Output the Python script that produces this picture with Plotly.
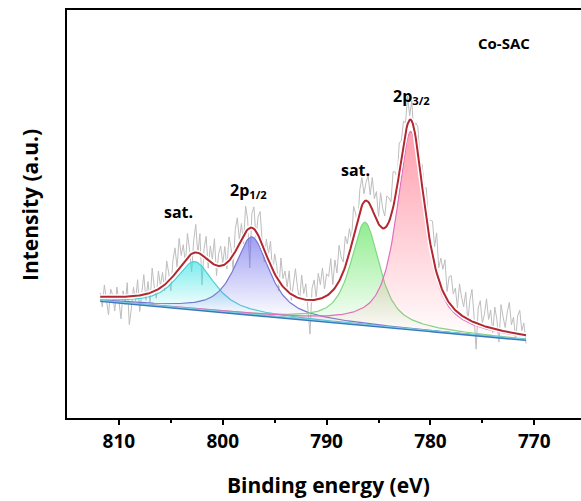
import numpy as np
import plotly.graph_objects as go

# ---------------- data ----------------
# binding-energy grid of the measured spectrum (eV), high -> low
be_start, be_stop, be_step = 811.8, 770.8, 0.2

# linear background: intensity at the two ends of the spectrum
bg_left, bg_right = 117.0, 78.0

# fitted components
peak_names   = ["sat. (2p1/2)", "2p1/2", "sat. (2p3/2)", "2p3/2"]
peak_centers = [802.7, 797.2, 786.3, 781.9]
peak_heights = [48.0, 78.0, 103.0, 198.0]
peak_fwhm    = [4.5, 4.0, 3.3, 3.2]
lorentz_frac = 0.8

residuals = [
    4, -10, 12, -6, -18, 8, 2, -14, 10, -4,
    -22, 6, -8, 14, -28, -12, 9, -5, 16, -16,
    3, 20, -6, 12, -10, 24, 5, -8, 18, 2,
    14, -6, 22, 8, -12, 16, 26, 4, 30, 10,
    18, -4, 24, 6, -18, 12, 28, -2, 20, -30,
    8, 22, -8, 16, 4, 26, -10, 12, 20, 2,
    18, -6, 24, 10, -14, 22, 30, 4, 16, -8,
    26, 10, -40, 14, 22, -6, 18, 28, 2, -12,
    16, 6, 24, -4, 20, 12, -10, 26, 8, 18,
    4, 22, -6, 14, 28, 10, -2, 24, 6, 16,
    -8, -34, 12, 20, 2, 26, 14, 30, 8, 22,
    18, 34, 6, 28, 12, 36, 20, 10, 30, 16,
    24, 4, 30, 14, -6, 22, 28, 8, 18, 26,
    10, 32, 16, 28, 6, 34, 20, 12, 30, 24,
    14, 36, 26, 8, 30, 18, 24, 10, 28, 4,
    20, -8, 16, 26, 6, 22, 14, 30, 10, 24,
    34, 18, 40, 12, 28, 22, 36, 8, 26, 30,
    14, 22, 4, 30, 18, 10, 26, -2, 20, 32,
    6, -26, 16, 24, 2, 12, 28, 8, 18, -4,
    22, 10, -12, 26, 14, 4, 20, 30, 8, 16,
    -6, 18, 24, 4, 12, -8,
]

labels = [
    ("<b>sat.</b>", 804.3, 206, 16),
    ("<b>2p<sub>1/2</sub></b>", 797.5, 228, 16),
    ("<b>sat.</b>", 787.2, 248, 16),
    ("<b>2p<sub>3/2</sub></b>", 781.8, 322, 16),
    ("<b>Co-SAC</b>", 772.9, 375, 15),
]

# styles
comp_line = ["rgb(80,205,215)", "rgb(120,120,210)", "rgb(130,215,130)", "rgb(225,110,190)"]
comp_fill = [(40, 225, 225), (95, 95, 235), (70, 225, 70), (255, 95, 120)]

# ---------------- model ----------------
def pv(x, c, h, w, eta):
    hw = w / 2.0
    lor = 1.0 / (1.0 + ((x - c) / hw) ** 2)
    gau = np.exp(-np.log(2) * ((x - c) / hw) ** 2)
    return h * (eta * lor + (1 - eta) * gau)

n = len(residuals)
x_raw = be_start - be_step * np.arange(n)
x_fit = np.linspace(be_start, be_stop, 411)

def background(x):
    return bg_left + (bg_right - bg_left) * (be_start - x) / (be_start - be_stop)

bg_fit = background(x_fit)
comps = [pv(x_fit, c, h, w, lorentz_frac) for c, h, w in zip(peak_centers, peak_heights, peak_fwhm)]
envelope = bg_fit + sum(comps)
env_raw = background(x_raw) + sum(pv(x_raw, c, h, w, lorentz_frac)
                                  for c, h, w in zip(peak_centers, peak_heights, peak_fwhm))
y_raw = env_raw + np.array(residuals, dtype=float)

fig = go.Figure()

# raw spectrum
fig.add_trace(go.Scatter(x=x_raw, y=y_raw, mode="lines",
                         line=dict(color="rgb(190,190,190)", width=1), showlegend=False))

# components filled down to background
for i, comp in enumerate(comps):
    r, g, b = comp_fill[i]
    top = bg_fit + comp
    fig.add_trace(go.Scatter(x=x_fit, y=bg_fit, mode="lines", line=dict(width=0),
                             showlegend=False, hoverinfo="skip"))
    fig.add_trace(go.Scatter(
        x=x_fit, y=top, mode="lines", fill="tonexty",
        line=dict(color=comp_line[i], width=1.2),
        fillgradient=dict(type="vertical",
                          start=float(background(peak_centers[i])),
                          stop=float(top.max()),
                          colorscale=[[0, f"rgba({r},{g},{b},0.03)"],
                                      [1, f"rgba({r},{g},{b},0.6)"]]),
        name=peak_names[i], showlegend=False))

# background lines
fig.add_trace(go.Scatter(x=x_fit, y=bg_fit, mode="lines",
                         line=dict(color="rgb(60,120,185)", width=2.2), showlegend=False))
fig.add_trace(go.Scatter(x=x_fit, y=bg_fit + 0.8, mode="lines",
                         line=dict(color="rgb(120,210,230)", width=1), showlegend=False))

# envelope with white halo
fig.add_trace(go.Scatter(x=x_fit, y=envelope, mode="lines",
                         line=dict(color="white", width=5), showlegend=False))
fig.add_trace(go.Scatter(x=x_fit, y=envelope, mode="lines",
                         line=dict(color="rgb(178,40,48)", width=2), showlegend=False))

FONT = "Open Sans"
for txt, xv, yv, sz in labels:
    fig.add_annotation(x=xv, y=yv, text=txt, showarrow=False,
                       xanchor="center", yanchor="middle",
                       font=dict(family=FONT, size=sz, color="black"))

fig.add_annotation(xref="paper", yref="paper", x=-0.072, y=0.522, text="<b>Intensity (a.u.)</b>",
                   textangle=-90, showarrow=False, xanchor="center", yanchor="middle",
                   font=dict(family=FONT, size=21, color="black"))
fig.add_annotation(xref="paper", yref="paper", x=0.508, y=-0.164, text="<b>Binding energy (eV)</b>",
                   showarrow=False, xanchor="center", yanchor="middle",
                   font=dict(family=FONT, size=21, color="black"))

fig.update_layout(
    width=581, height=501,
    margin=dict(l=67, r=0, t=10, b=83),
    paper_bgcolor="white", plot_bgcolor="white",
    font=dict(family=FONT, color="black"),
)
fig.update_xaxes(range=[815, 765.5], showgrid=False, zeroline=False,
                 showline=True, linecolor="black", linewidth=2, mirror=True,
                 ticks="outside", ticklen=5, tickwidth=2, tickcolor="black",
                 tickvals=[810, 800, 790, 780, 770],
                 ticktext=["<b>810</b>", "<b>800</b>", "<b>790</b>", "<b>780</b>", "<b>770</b>"],
                 tickfont=dict(family=FONT, size=19, color="black"),
                 minor=dict(tickvals=[805, 795, 785, 775], ticks="outside", ticklen=3,
                            tickwidth=2, tickcolor="black"))
fig.update_yaxes(range=[0, 408], showgrid=False, zeroline=False,
                 showline=True, linecolor="black", linewidth=2, mirror=False,
                 showticklabels=False, ticks="")

fig.write_html("out.html")
